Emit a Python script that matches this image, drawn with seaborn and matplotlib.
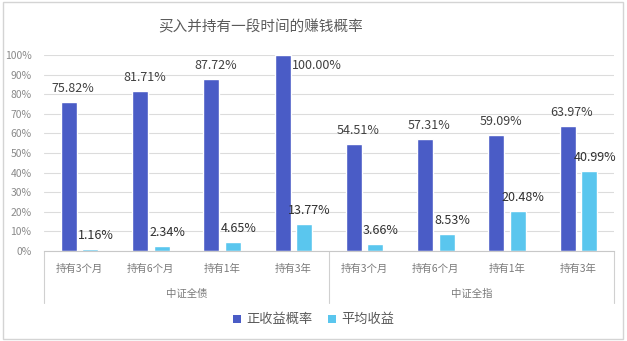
import pandas as pd
import matplotlib.pyplot as plt
import seaborn as sns
from matplotlib.patches import Rectangle, Patch

# Data
groups = ['中证全债', '中证全指']
periods = ['持有3个月', '持有6个月', '持有1年', '持有3年']
series_names = ['正收益概率', '平均收益']
win_rate = [75.82, 81.71, 87.72, 100.00, 54.51, 57.31, 59.09, 63.97]
avg_return = [1.16, 2.34, 4.65, 13.77, 3.66, 8.53, 20.48, 40.99]
colors = ['#4A5CC6', '#5AC6EE']

# Long-form table for seaborn
keys = [f'{g}|{p}' for g in groups for p in periods]
df = pd.DataFrame({
    'key': keys * 2,
    'series': [series_names[0]] * len(keys) + [series_names[1]] * len(keys),
    'value': win_rate + avg_return,
})

sns.set_theme(style='white')
plt.rcParams['font.family'] = ['Noto Sans CJK SC', 'DejaVu Sans']

fig = plt.figure(figsize=(6.27, 3.41), dpi=100)
ax = fig.add_axes([0.0702, 0.264, 0.909, 0.575])

sns.barplot(data=df, x='key', y='value', hue='series', order=keys,
            hue_order=series_names, palette=colors, width=0.6, gap=0.25,
            saturation=1, legend=False, ax=ax)

# Data labels
for i, cont in enumerate(ax.containers):
    for bar in cont:
        v = bar.get_height()
        xc = bar.get_x() + bar.get_width() / 2
        if v >= 99.9:
            ax.annotate(f'{v:.2f}%', (bar.get_x() + bar.get_width(), v),
                        xytext=(1, -3), textcoords='offset points',
                        ha='left', va='top', fontsize=9, color='#404040')
        else:
            ax.annotate(f'{v:.2f}%', (xc, v), xytext=(3 + i, 5),
                        textcoords='offset points', ha='center', va='bottom',
                        fontsize=9, color='#404040' if i == 0 else '#303030')

# Axes styling
ax.set_ylim(0, 100)
ax.set_xlim(-0.5, len(keys) - 0.5)
ax.set_yticks(range(0, 101, 10))
ax.set_yticklabels([f'{t}%' for t in range(0, 101, 10)])
ax.set_xticks(range(len(keys)))
ax.set_xticklabels(periods * len(groups))
ax.tick_params(axis='y', length=0, pad=9, labelsize=7.5, labelcolor='#8a8a8a')
ax.tick_params(axis='x', length=0, pad=9, labelsize=7.5, labelcolor='#7a7a7a')
ax.set_xlabel('')
ax.set_ylabel('')
ax.grid(axis='y', color='#dcdcdc', linewidth=0.8)
ax.set_axisbelow(True)
for s in ['left', 'right', 'top']:
    ax.spines[s].set_visible(False)
ax.spines['bottom'].set_color('#c8c8c8')
ax.spines['bottom'].set_linewidth(0.8)

# Group labels and dividers under the axis
tr = ax.get_xaxis_transform()
for x in [-0.5, 3.5, 7.5]:
    ax.plot([x, x], [0, -0.265], transform=tr, color='#d0d0d0',
            linewidth=0.8, clip_on=False)
for gi, g in enumerate(groups):
    ax.text(gi * 4 + 1.5, -0.219, g, transform=tr, ha='center', va='center',
            fontsize=7.5, color='#7a7a7a')

# Title
fig.text(0.416, 0.921, '买入并持有一段时间的赚钱概率', ha='center', va='center',
         fontsize=10.5, color='#5a5a5a')

# Legend
handles = [Patch(facecolor=c, edgecolor='none') for c in colors]
fig.legend(handles, series_names, loc='center', bbox_to_anchor=(0.5, 0.062),
           ncol=2, frameon=False, fontsize=9.5, handlelength=0.6,
           handleheight=0.6, handletextpad=0.4, columnspacing=1.2,
           labelcolor='#595959')

# Outer border
fig.patches.append(Rectangle((0.004, 0.006), 0.99, 0.988, transform=fig.transFigure,
                             fill=False, edgecolor='#d4d4d4', linewidth=1))

fig.savefig('out.png', dpi=100)
